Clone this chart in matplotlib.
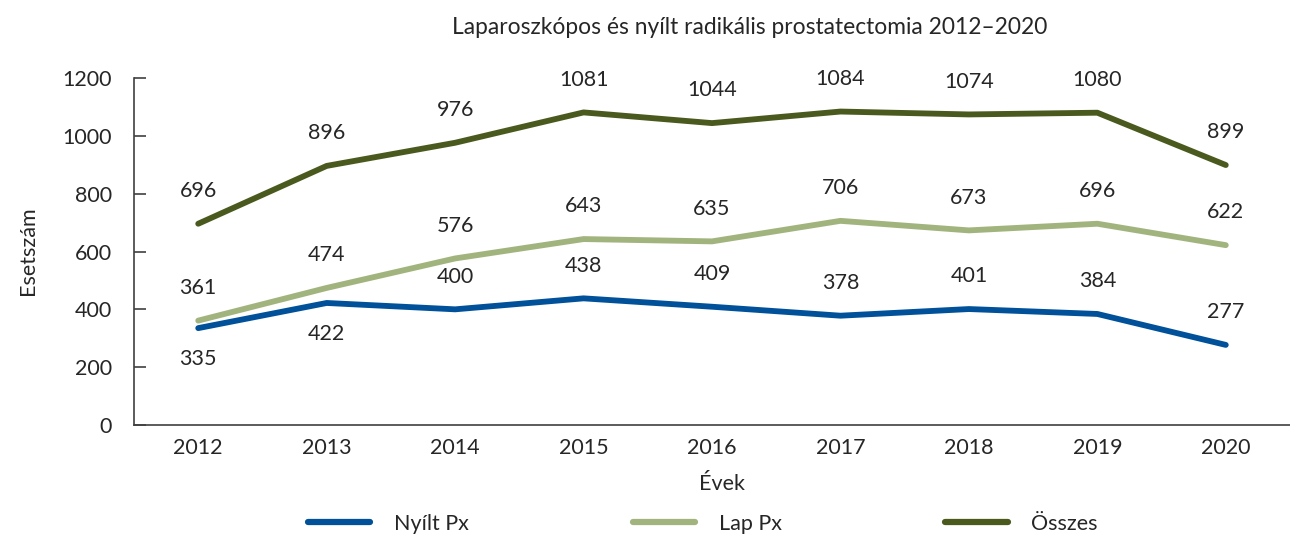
import matplotlib
matplotlib.use("Agg")
import matplotlib.pyplot as plt
from matplotlib.lines import Line2D

years = ["2012", "2013", "2014", "2015", "2016", "2017", "2018", "2019", "2020"]
nyilt = [335, 422, 400, 438, 409, 378, 401, 384, 277]
lap = [361, 474, 576, 643, 635, 706, 673, 696, 622]
osszes = [696, 896, 976, 1081, 1044, 1084, 1074, 1080, 899]
nyilt_below = [True, True, False, False, False, False, False, False, False]
yticks = [0, 200, 400, 600, 800, 1000, 1200]

c_nyilt = "#00519a"
c_lap = "#a2b47e"
c_ossz = "#4a5a1e"
txt = "#262626"

plt.rcParams['font.family'] = ['Lato', 'DejaVu Sans']

W, H = 1290, 535
fig = plt.figure(figsize=(W / 100, H / 100), dpi=100)
ax = fig.add_axes([134 / W, (H - 425) / H, (W - 134) / W, (425 - 78) / H])

x = list(range(len(years)))
lw = 4.2
ax.plot(x, nyilt, color=c_nyilt, lw=lw, solid_capstyle="round", solid_joinstyle="round")
ax.plot(x, lap, color=c_lap, lw=lw, solid_capstyle="round", solid_joinstyle="round")
ax.plot(x, osszes, color=c_ossz, lw=lw, solid_capstyle="round", solid_joinstyle="round")

fs = 15.5
up = 23.5
for xi, v in zip(x, osszes):
    ax.annotate(str(v), (xi, v), xytext=(0, up), textcoords="offset points",
                ha="center", va="center", fontsize=fs, color=txt)
for xi, v in zip(x, lap):
    ax.annotate(str(v), (xi, v), xytext=(0, up), textcoords="offset points",
                ha="center", va="center", fontsize=fs, color=txt)
for xi, v, b in zip(x, nyilt, nyilt_below):
    ax.annotate(str(v), (xi, v), xytext=(0, -22 if b else up), textcoords="offset points",
                ha="center", va="center", fontsize=fs, color=txt)

ax.set_xlim(-0.5, len(years) - 0.5)
ax.set_ylim(0, 1200)
ax.set_xticks(x)
ax.set_xticklabels(years)
ax.set_yticks(yticks)
ax.tick_params(axis="x", length=0, pad=9, labelsize=fs, labelcolor=txt)
ax.tick_params(axis="y", direction="in", length=8.5, width=1.2, color="#404040",
               pad=16, labelsize=fs, labelcolor=txt)
for s in ["top", "right"]:
    ax.spines[s].set_visible(False)
for s in ["left", "bottom"]:
    ax.spines[s].set_color("#404040")
    ax.spines[s].set_linewidth(1.2)

fig.text(750 / W, 1 - 28 / H, "Laparoszkópos és nyílt radikális prostatectomia 2012–2020",
         ha="center", va="center", fontsize=16.4, color=txt)
fig.text(28 / W, 1 - 251 / H, "Esetszám", rotation=90, ha="center", va="center",
         fontsize=fs, color=txt)
fig.text(722 / W, 1 - 484 / H, "Évek", ha="center", va="center", fontsize=fs, color=txt)

handles = [Line2D([], [], color=c, lw=4.5, solid_capstyle="round") for c in (c_nyilt, c_lap, c_ossz)]
fig.legend(handles, ["Nyílt Px", "Lap Px", "Összes"], loc="center",
           bbox_to_anchor=(703 / W, 1 - 524 / H), ncol=3, frameon=False,
           fontsize=fs, handlelength=2.9, handletextpad=1.1, columnspacing=7.6,
           labelcolor=txt, borderpad=0, borderaxespad=0)

fig.savefig("out.png", dpi=100)
